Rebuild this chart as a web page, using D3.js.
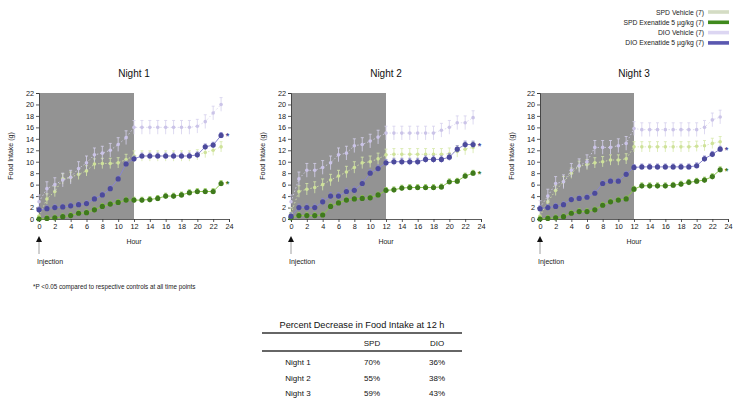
<!DOCTYPE html>
<html>
<head>
<meta charset="utf-8">
<script src="https://cdn.jsdelivr.net/npm/d3@7"></script>
<style>
  html,body{margin:0;padding:0;background:#fff;}
  svg{display:block;font-family:"Liberation Sans",Arial,sans-serif;}
</style>
</head>
<body>
<svg id="chart" width="736" height="405"></svg>
<script>
// ---------------- DATA ----------------
const hours = [0,1,2,3,4,5,6,7,8,9,10,11,12,13,14,15,16,17,18,19,20,21,22,23];
const xTicks = [0,2,4,6,8,10,12,14,16,18,20,22,24];
const yTicks = [0,2,4,6,8,10,12,14,16,18,20,22];
const nights = ["Night 1","Night 2","Night 3"];
const groups = ["SPD Vehicle (7)","SPD Exenatide 5 µg/kg (7)","DIO Vehicle (7)","DIO Exenatide 5 µg/kg (7)"];

// Night 1
const n1SpdVeh = [0.5,3.5,4.8,7.0,7.3,7.8,8.4,9.6,9.7,9.7,9.8,10.4,11.0,11.0,11.0,11.0,11.0,11.0,11.0,11.0,11.2,11.6,12.0,12.6];
const n1SpdEx  = [0.0,0.1,0.2,0.4,0.6,1.0,1.1,1.6,2.2,2.6,2.9,3.3,3.3,3.3,3.4,3.6,4.0,4.0,4.2,4.6,4.8,4.8,4.8,6.2];
const n1DioVeh = [3.0,5.3,6.0,6.8,7.3,8.8,9.8,11.2,11.5,12.0,13.0,14.2,16.0,16.0,16.0,16.0,16.0,16.0,16.0,16.0,16.2,17.0,18.5,20.0];
const n1DioEx  = [1.6,1.8,2.0,2.1,2.3,2.5,2.7,3.5,4.2,5.3,7.0,9.6,10.5,11.0,11.0,11.0,11.0,11.0,11.0,11.0,11.2,12.6,12.9,14.6];
// Night 2
const n2SpdVeh = [1.0,4.8,5.2,5.5,6.0,6.8,7.5,8.2,9.0,9.8,10.0,10.5,11.2,11.3,11.3,11.3,11.3,11.3,11.3,11.3,11.4,11.8,12.2,12.5];
const n2SpdEx  = [0.2,0.6,0.6,0.6,0.7,2.2,2.8,3.3,3.5,3.6,3.7,4.2,5.0,5.1,5.4,5.5,5.5,5.5,5.5,5.6,6.5,6.6,7.5,8.0];
const n2DioVeh = [3.0,7.0,8.5,8.5,9.0,9.8,11.2,11.5,12.8,13.0,13.6,14.3,15.0,15.0,15.0,15.0,15.0,15.0,15.0,15.5,16.0,16.8,16.8,17.7];
const n2DioEx  = [0.5,2.0,2.0,2.0,3.0,4.0,4.0,4.8,5.0,6.2,8.0,8.8,9.8,10.0,10.0,10.0,10.0,10.4,10.4,10.4,10.8,12.2,13.0,13.0];
// Night 3
const n3SpdVeh = [0.5,3.0,5.0,6.5,8.0,9.2,9.5,9.8,10.0,10.3,10.3,10.5,12.6,12.6,12.6,12.6,12.6,12.6,12.6,12.6,12.7,12.8,13.2,13.5];
const n3SpdEx  = [0.0,0.1,0.2,0.4,1.0,1.3,1.3,1.6,2.4,3.0,3.3,3.5,5.2,5.8,5.8,5.8,5.8,5.9,6.1,6.4,6.6,6.8,7.4,8.6];
const n3DioVeh = [2.0,4.0,6.2,6.5,8.5,9.3,10.0,12.5,12.5,12.5,12.8,13.2,15.8,15.6,15.6,15.6,15.6,15.6,15.6,15.6,15.6,16.0,17.3,17.8];
const n3DioEx  = [1.8,2.0,2.2,2.5,3.4,3.6,3.8,4.5,6.2,6.6,6.6,7.8,9.0,9.1,9.1,9.1,9.1,9.1,9.1,9.1,9.3,10.5,11.3,12.2];

// typical SEM per group (Night 1..3)
const semSpdVeh = [0.9,1.0,0.9];
const semSpdEx  = [0.5,0.5,0.5];
const semDioVeh = [1.2,1.2,1.2];
const semDioEx  = [0.5,0.6,0.5];

// table
const tableTitle = "Percent Decrease in Food Intake at 12 h";
const tableCols = ["SPD","DIO"];
const tableRows = ["Night 1","Night 2","Night 3"];
const pctSPD = ["70%","55%","59%"];
const pctDIO = ["36%","38%","43%"];
const footnote = "*P <0.05 compared to respective controls at all time points";

// ---------------- DRAW ----------------
const svg = d3.select("#chart");
const colors = {
  spdVeh: {line:"#d6e8a8", dot:"#cfe29a"},
  spdEx:  {line:"#8cc84a", dot:"#3f7a1c"},
  dioVeh: {line:"#d6d0ee", dot:"#cbc4e8"},
  dioEx:  {line:"#8a86d0", dot:"#4c4a9c"}
};
const nightData = [
  {spdVeh:n1SpdVeh, spdEx:n1SpdEx, dioVeh:n1DioVeh, dioEx:n1DioEx},
  {spdVeh:n2SpdVeh, spdEx:n2SpdEx, dioVeh:n2DioVeh, dioEx:n2DioEx},
  {spdVeh:n3SpdVeh, spdEx:n3SpdEx, dioVeh:n3DioVeh, dioEx:n3DioEx}
];
const sems = {spdVeh:semSpdVeh, spdEx:semSpdEx, dioVeh:semDioVeh, dioEx:semDioEx};
const panelX = [39, 291, 540];
const panelW = [190, 190, 188];
const yBottom = 219, yTop = 93;

nights.forEach((name, i) => {
  const x = d3.scaleLinear().domain([0,24]).range([panelX[i], panelX[i]+panelW[i]]);
  const y = d3.scaleLinear().domain([0,22]).range([yBottom, yTop]);
  const g = svg.append("g");

  // shaded dark phase
  g.append("rect")
    .attr("x", x(0)).attr("y", y(22))
    .attr("width", x(12)-x(0)).attr("height", y(0)-y(22))
    .attr("fill", "#939393");

  // axes
  const ya = g.append("g").attr("transform", `translate(${x(0)},0)`)
    .call(d3.axisLeft(y).tickValues(yTicks).tickSize(3).tickPadding(2));
  const xa = g.append("g").attr("transform", `translate(0,${y(0)})`)
    .call(d3.axisBottom(x).tickValues(xTicks).tickSize(3).tickPadding(2));
  [ya, xa].forEach(a => {
    a.selectAll("text").attr("font-size", 7.3).attr("fill", "#1a1a1a")
      .attr("font-family", "Liberation Sans, Arial, sans-serif");
    a.selectAll("path,line").attr("stroke", "#333").attr("stroke-width", 0.8);
  });

  // series
  const order = ["spdVeh","dioVeh","spdEx","dioEx"];
  order.forEach(key => {
    const vals = nightData[i][key];
    const sem = sems[key][i];
    const isVeh = key.endsWith("Veh");
    const c = colors[key];
    const pts = hours.map((h, j) => ({h, v: vals[j]}));
    const line = d3.line().x(d => x(d.h)).y(d => y(d.v));
    g.append("path").datum(pts)
      .attr("d", line).attr("fill", "none")
      .attr("stroke", c.line).attr("stroke-width", isVeh ? 0.8 : 1)
      .attr("stroke-dasharray", isVeh ? "1.5,2" : null);
    // error bars
    const eb = g.append("g").attr("stroke", c.line).attr("stroke-width", 0.8);
    pts.forEach(d => {
      eb.append("line").attr("x1", x(d.h)).attr("x2", x(d.h))
        .attr("y1", y(d.v + sem)).attr("y2", y(Math.max(0, d.v - sem)));
      eb.append("line").attr("x1", x(d.h)-1.5).attr("x2", x(d.h)+1.5)
        .attr("y1", y(d.v + sem)).attr("y2", y(d.v + sem));
    });
    g.append("g").selectAll("circle").data(pts).join("circle")
      .attr("cx", d => x(d.h)).attr("cy", d => y(d.v))
      .attr("r", isVeh ? 1.8 : 2.6)
      .attr("fill", c.dot);
    if (!isVeh) {
      const last = pts[pts.length-1];
      g.append("text").attr("x", x(last.h + 0.6)).attr("y", y(last.v) + 4)
        .attr("font-size", 9).attr("font-weight", "bold").attr("fill", c.dot).text("*");
    }
  });

  // titles and labels
  g.append("text").attr("x", x(12)).attr("y", 77).attr("text-anchor", "middle")
    .attr("font-size", 10).attr("fill", "#111").text(name);
  g.append("text").attr("transform", `translate(${x(0)-26},${(yTop+yBottom)/2}) rotate(-90)`)
    .attr("text-anchor", "middle").attr("font-size", 7).attr("fill", "#222").text("Food Intake (g)");
  g.append("text").attr("x", x(12)).attr("y", 244).attr("text-anchor", "middle")
    .attr("font-size", 7).attr("fill", "#222").text("Hour");

  // injection arrow
  const ax = x(0);
  g.append("path").attr("d", `M${ax},236 L${ax-3},242 L${ax+3},242 Z`).attr("fill", "#111");
  g.append("line").attr("x1", ax).attr("x2", ax).attr("y1", 242).attr("y2", 254)
    .attr("stroke", "#888").attr("stroke-width", 0.8);
  g.append("text").attr("x", ax-2).attr("y", 264).attr("font-size", 7).attr("fill", "#222").text("Injection");
});

// legend
const legSw = ["#d4dcc4","#3f8a1c","#dcd6f2","#5a58b0"];
groups.forEach((gname, k) => {
  const yy = 12 + k*10.3;
  svg.append("text").attr("x", 704).attr("y", yy + 2.5).attr("text-anchor", "end")
    .attr("font-size", 6.8).attr("fill", "#222").text(gname);
  svg.append("rect").attr("x", 708).attr("y", yy - 1.8).attr("width", 21).attr("height", 3.6)
    .attr("fill", legSw[k]);
});

// footnote
svg.append("text").attr("x", 33).attr("y", 289).attr("font-size", 6.3).attr("fill", "#222").text(footnote);

// table
const tx0 = 262, tx1 = 462;
const colX = [372, 437];
svg.append("text").attr("x", (tx0+tx1)/2).attr("y", 328).attr("text-anchor", "middle")
  .attr("font-size", 9.2).attr("fill", "#111").text(tableTitle);
svg.append("line").attr("x1", tx0).attr("x2", tx1).attr("y1", 333).attr("y2", 333)
  .attr("stroke", "#333").attr("stroke-width", 1.3);
tableCols.forEach((c, k) => {
  svg.append("text").attr("x", colX[k]).attr("y", 346).attr("text-anchor", "middle")
    .attr("font-size", 8).attr("fill", "#111").text(c);
});
svg.append("line").attr("x1", tx0).attr("x2", tx1).attr("y1", 351).attr("y2", 351)
  .attr("stroke", "#333").attr("stroke-width", 1.3);
tableRows.forEach((r, k) => {
  const yy = 365 + k*15.5;
  svg.append("text").attr("x", 298).attr("y", yy).attr("text-anchor", "middle")
    .attr("font-size", 8).attr("fill", "#111").text(r);
  svg.append("text").attr("x", colX[0]).attr("y", yy).attr("text-anchor", "middle")
    .attr("font-size", 8).attr("fill", "#111").text(pctSPD[k]);
  svg.append("text").attr("x", colX[1]).attr("y", yy).attr("text-anchor", "middle")
    .attr("font-size", 8).attr("fill", "#111").text(pctDIO[k]);
});
</script>
</body>
</html>
